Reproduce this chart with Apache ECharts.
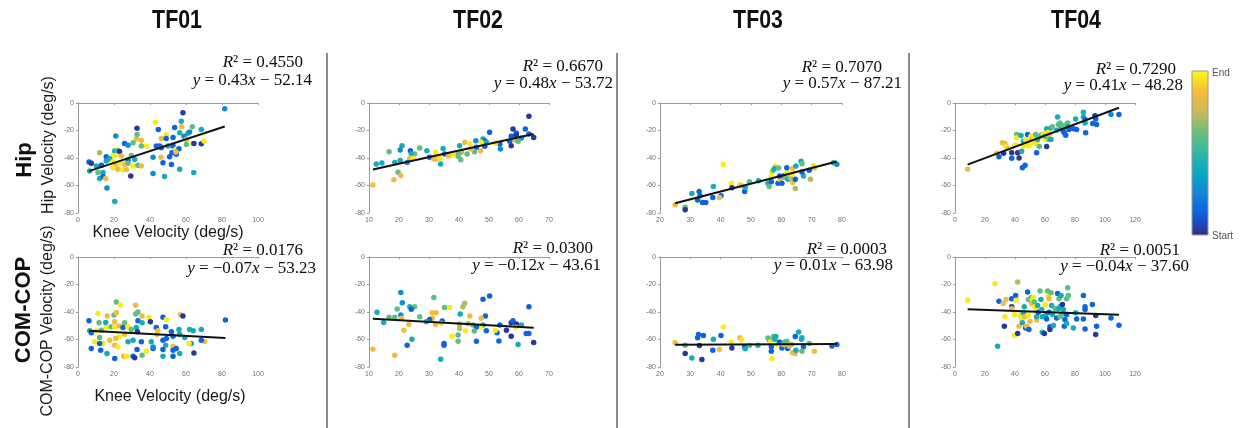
<!DOCTYPE html>
<html>
<head>
<meta charset="utf-8">
<script src="https://cdn.jsdelivr.net/npm/echarts@6/dist/echarts.min.js"></script>
<style>
  html, body { margin: 0; padding: 0; background: #ffffff; }
  #chart { width: 1243px; height: 428px; }
</style>
</head>
<body>
<div id="chart"></div>
<script>
// Trials (columns) and measures (rows)
const trialNames = ['TF01', 'TF02', 'TF03', 'TF04'];
const rowNames = ['Hip', 'COM-COP'];
const rowAxisTitles = ['Hip Velocity (deg/s)', 'COM-COP Velocity (deg/s)'];
const xAxisTitle = 'Knee Velocity (deg/s)';

// Knee velocity axis range per trial: [min, max, step]
const kneeAxis = [[0, 100, 20], [10, 70, 10], [20, 80, 10], [0, 120, 20]];
// Shared vertical axis: [min, max, step]
const velocityAxis = [-80, 0, 20];

// Linear fits per trial
const hipR2 = ['0.4550', '0.6670', '0.7070', '0.7290'];
const hipSlope = [0.43, 0.48, 0.57, 0.41];
const hipIntercept = [-52.14, -53.72, -87.21, -48.28];
const copR2 = ['0.0176', '0.0300', '0.0003', '0.0051'];
const copSlope = [-0.07, -0.12, 0.01, -0.04];
const copIntercept = [-53.23, -43.61, -63.98, -37.60];

// Samples: [knee velocity, velocity, progress 0 = start .. 1 = end]
const tf01Hip = [[81.5,-4.1,.28],[58.3,-7,.03],[57.4,-13.3,.42],[43,-14,.97],[63.5,-17.3,.6],[57.6,-17.3,.85],[53.7,-17.8,.15],[32.8,-18.3,.03],[44.6,-19.3,.15],[68.5,-19.3,.42],[61,-22,.42],[62,-21,.28],[56.5,-21.7,.42],[49,-23,.97],[21,-24,.28],[46.3,-25.8,.85],[52.8,-25,.15],[49,-25.8,.15],[58.9,-24.1,.28],[60.2,-26.5,.85],[32.4,-26,.85],[32.8,-22.9,.6],[35.2,-27,.85],[30.6,-28.9,.6],[25.9,-29.4,.15],[27.8,-30.8,.28],[38,-31.3,.97],[35.2,-31.3,.6],[43.5,-31.3,.15],[45.4,-31.3,.15],[46.3,-32.5,.15],[50,-31.3,.42],[52.8,-31.3,.15],[54.4,-33.7,.97],[56.1,-33.3,.15],[63.9,-29.4,.97],[64.4,-29.4,.03],[68.5,-29.6,.03],[70,-27.7,.97],[60.2,-30.1,.6],[12,-36.1,.72],[20.4,-34.9,.42],[22.2,-34.5,.6],[23.1,-35.2,.03],[20.8,-38.1,.97],[19.4,-38.6,.97],[15.7,-39,.15],[17.6,-40.5,.42],[24.1,-38.6,.85],[29.6,-38.1,.6],[31.5,-41,.42],[27.8,-41.4,.15],[41.7,-39.5,.28],[46.1,-39.5,.85],[50.9,-39,.15],[54.6,-37.3,.15],[52.2,-36.1,.15],[54.4,-35.7,.85],[6.1,-42.9,.15],[7.4,-43.9,.03],[10.2,-45.8,.42],[13,-45.3,.15],[15.7,-42.2,.42],[19.4,-42.7,.97],[21.3,-44.6,.85],[23.1,-43.9,.97],[25.9,-44.6,.85],[27.8,-43.9,.6],[30.6,-45.8,.97],[33.3,-45.3,.6],[35.2,-45.8,.85],[6.5,-49.4,.42],[11.1,-50.6,.6],[13.9,-50.6,.42],[19.4,-47,.97],[22.2,-48.2,.85],[25,-48.7,.97],[26.9,-48.2,.85],[12,-54.9,.42],[13.9,-53.5,.15],[15.4,-54.9,.85],[29.3,-53,.03],[16.1,-61.9,.28],[20.4,-71.6,.42],[41.7,-51.3,.28],[48.1,-53.5,.42],[51.9,-44.8,.15],[56.5,-48.2,.42],[64.3,-50.6,.42],[47.2,-43.4,.15]];
const tf01Cop = [[81.9,-45.9,.15],[21.3,-32.7,.6],[23.5,-34.9,.97],[32,-35.1,.85],[32,-41.5,.6],[33.3,-40,.6],[35.6,-42.9,.85],[39.4,-43.9,.97],[47.2,-43.9,.15],[49.1,-45.4,.97],[57,-42,.85],[58.3,-42.9,.03],[6.1,-46.3,.15],[11.1,-41,.97],[16.3,-42.9,.85],[20,-42.2,.6],[21.3,-40.5,.85],[11.7,-47.8,.6],[15.4,-47.6,.42],[20.4,-47,.85],[25.9,-47.8,.6],[33.3,-46.3,.15],[35.6,-47.8,.42],[40.2,-47,.03],[6.5,-53.7,.42],[7.4,-55.1,.15],[10.2,-53.7,.97],[13,-53.2,.6],[15.7,-51.2,.97],[18.5,-50.7,.6],[20.4,-50.7,.97],[23.1,-50.2,.85],[25,-51.2,.15],[27.8,-50.7,.97],[29.6,-52.7,.6],[32.4,-51.2,.42],[33,-54.4,.03],[43.5,-51.2,.15],[44.4,-53.7,.85],[48.7,-50.7,.15],[51.9,-54.4,.15],[56.1,-52.7,.42],[62,-52.7,.42],[64,-53.7,.42],[68.5,-52.7,.42],[70.4,-61.5,.85],[68.5,-60.5,.15],[63,-62.9,.42],[61.7,-62.9,.97],[59.3,-58.5,.42],[56.5,-56.1,.42],[52.8,-57.6,.15],[49.1,-59.3,.15],[47.2,-60.5,.15],[43.9,-56.1,.85],[40.7,-61.7,.42],[35.2,-61.7,.15],[30.6,-60.5,.42],[25.9,-56.1,.85],[23.1,-58,.97],[20.9,-59.3,.85],[17.6,-60.5,.85],[12,-58.5,.6],[13.9,-62.9,.97],[9.3,-61.7,.97],[12,-62.9,.15],[20.4,-64.1,.85],[22.2,-65.4,.97],[27.8,-61.7,.42],[32.8,-67.3,.15],[38,-68.3,.97],[41.7,-66.6,.15],[41.7,-65.4,.28],[47.2,-67.3,.15],[48.7,-64.1,.42],[52.8,-64.9,.85],[52.8,-67.8,.15],[54.6,-66.6,.15],[56.5,-70.2,.42],[64.4,-69.8,.03],[52.8,-72.2,.15],[47.2,-72.2,.42],[30.6,-72.2,.15],[25.4,-72.2,.85],[27.2,-72.2,.97],[31.5,-73.2,.03],[35.6,-71.5,.6],[20.4,-73.9,.15],[7.4,-66.6,.15],[12.6,-67.8,.15],[16.1,-70.2,.42]];
const tf02Hip = [[63.3,-9.7,.03],[50.2,-21.3,.15],[58,-18.9,.03],[62.1,-18.9,.15],[59.1,-21.8,.15],[57.4,-24.2,.15],[58.3,-24.2,.15],[59.1,-23.3,.03],[60.8,-25.5,.28],[64.9,-25,.03],[63.3,-22.5,.15],[58.6,-26.9,.85],[59.7,-27.9,.6],[56.9,-27.9,.15],[57.4,-31,.03],[53.6,-29.8,.15],[53.8,-33.5,.28],[52.2,-29.1,.97],[48,-26.2,.42],[48.6,-27.4,.15],[49.1,-28.6,.42],[47.4,-28.6,.97],[45.6,-27.4,.28],[41.9,-28.6,.85],[43.6,-29.8,.97],[45.8,-32.2,.15],[48.6,-31.5,.15],[47.2,-34.7,.85],[45.2,-35.4,.6],[40.2,-31,.42],[40.8,-35.9,.72],[42.7,-37.1,.6],[39.7,-37.1,.6],[39.7,-38.8,.6],[40.6,-41.2,.6],[38,-37.8,.97],[35.2,-37.1,.15],[34.7,-33,.42],[32.2,-35.9,.97],[30.2,-39.5,.15],[31.6,-40.7,.85],[32.4,-40.7,.85],[33.6,-40.2,.97],[33.9,-44.4,.42],[29.3,-34.7,.42],[26.9,-32.7,.6],[25.2,-37.1,.6],[23.8,-34.7,.15],[24.1,-37.1,.42],[23.6,-40.2,.85],[24.7,-40.2,.97],[22.7,-43.2,.28],[20.4,-41.9,.42],[21,-31,.42],[20.4,-34.2,.28],[16.7,-35.4,.6],[12.4,-44.4,.42],[14.3,-43.6,.42],[18.6,-43.2,.42],[19.7,-50.4,.6],[20.6,-52.8,.85],[18.3,-55.8,.85],[11.3,-59.6,.85],[36.5,-38.5,.85],[44,-33.5,.85]];
const tf02Cop = [[20.6,-25.9,.28],[21.1,-33.2,.28],[31.6,-29.5,.6],[41.9,-33.7,.72],[41.3,-36.1,.72],[50.2,-28.3,.15],[48,-30.7,.15],[63.3,-36.1,.15],[12.7,-40.2,.42],[19.4,-37.8,.6],[23.6,-36.1,.42],[25.2,-36.1,.6],[24.1,-38,.15],[20.6,-42.2,.28],[20.8,-44.6,.85],[16.7,-43.9,.6],[18.6,-43.9,.6],[14.9,-47.6,.42],[26.9,-43.4,.6],[31.1,-40.5,.85],[32.4,-40.5,.85],[31.1,-44.6,.85],[35.2,-36.8,.6],[36.9,-36.8,.97],[40.4,-41.5,.42],[43.6,-42.9,.85],[48.8,-42.9,.15],[47.4,-44.6,.85],[30.2,-45.4,.15],[29.1,-47.1,.42],[34.4,-46.6,.15],[34.1,-48.3,.97],[32.2,-49,.85],[40.2,-48.8,.72],[43,-48.3,.72],[44.7,-49.5,.6],[48,-49.5,.42],[45.8,-51.2,.97],[47.1,-50.7,.97],[45.8,-50.7,.15],[40.2,-52,.72],[42.2,-53.7,.97],[45.1,-53.9,.6],[49.1,-53.7,.15],[53.6,-49.5,.15],[52.7,-55.1,.15],[52.1,-53.2,.97],[55.8,-53.2,.03],[57.4,-47.8,.03],[58,-46.3,.15],[59.1,-48.8,.03],[58.9,-51.2,.97],[60.8,-49.5,.42],[62.4,-55.6,.15],[63.3,-55.6,.15],[64.9,-62.2,.03],[59.7,-63.7,.42],[57.4,-57.6,.03],[53.3,-61,.15],[45.8,-61.2,.15],[39.7,-61.2,.6],[39.7,-56.8,.6],[37.7,-57.6,.97],[35,-62.9,.15],[35,-64.1,.15],[33.9,-74.4,.42],[24.3,-59.8,.42],[21.6,-53.2,.85],[23.3,-49,.85],[22.7,-64.1,.15],[11.3,-67.1,.85],[18.6,-71.5,.85]];
const tf03Hip = [[25,-74,.85],[28.3,-75.9,.6],[28.3,-77.6,.03],[30.5,-65.8,.42],[32.9,-64.3,.15],[32.4,-70.6,.15],[33.2,-67.5,.15],[34,-72.3,.15],[35.1,-72.3,.15],[37.6,-60.7,.42],[37.4,-68.7,.15],[40.1,-67.5,.15],[39.6,-68.7,.85],[40.9,-44.8,.97],[43.5,-58.3,.97],[43.7,-61.7,.03],[46.3,-59.5,.97],[46.9,-60.2,.85],[47.9,-64.3,.15],[48.1,-61.4,.42],[49.5,-57.3,.6],[52.5,-56.6,.42],[55.6,-58.3,.42],[56,-60.7,.6],[56.7,-53.5,.97],[56.7,-57.3,.15],[56.9,-50.1,.97],[57.3,-48.9,.6],[58,-45.8,.97],[57.8,-47.7,.42],[59.1,-47.2,.6],[58.9,-58.3,.15],[59.6,-55.9,.85],[60.2,-58.3,.15],[59.4,-53,.15],[60.7,-53,.15],[61.3,-54.2,.6],[61.8,-50.6,.97],[61.8,-47,.15],[62.2,-55.4,.42],[62.9,-54.2,.72],[63.5,-51.8,.97],[63.7,-47.7,.85],[63.8,-57.8,.85],[64.6,-62.2,.72],[64.6,-55.4,.15],[64.8,-45.8,.42],[66.5,-42.4,.42],[66.8,-44.1,.6],[67.3,-53,.42],[66.8,-50.1,.15],[69.2,-48.9,.15],[69.6,-55.4,.72],[70.6,-45.5,.97],[70.9,-47.2,.85],[77.2,-43.4,.42],[78.3,-44.6,.28]];
const tf03Cop = [[25,-62.4,.85],[28.3,-64.1,.6],[28.3,-70.2,.03],[30.5,-73.4,.42],[32.7,-56.3,.15],[32.4,-58.7,.15],[33,-64.3,.03],[34.3,-57,.15],[33.8,-74.6,.03],[37.6,-59.9,.42],[37.4,-67.8,.15],[39.6,-67.3,.85],[40.1,-57,.15],[40.9,-50.9,.97],[43.5,-61.9,.97],[43.7,-66.1,.03],[46.3,-58.7,.85],[46.9,-60.4,.97],[47.9,-65.3,.15],[48.1,-66.8,.42],[49.5,-64.3,.6],[52.3,-64.1,.42],[55.6,-58.9,.6],[56,-60.4,.6],[56.4,-61.9,.97],[56.7,-65.3,.15],[56.7,-68.5,.15],[56.9,-73.9,.97],[57.4,-57.9,.6],[58.2,-57.9,.42],[57.8,-59.9,.42],[59.1,-62.4,.6],[58.5,-63.6,.97],[59.4,-61.9,.15],[60.2,-66.1,.15],[60.7,-63.6,.85],[61.1,-61.9,.6],[61.8,-61.2,.6],[62.1,-66.5,.15],[62.6,-64.8,.85],[63.3,-63.6,.72],[63.7,-69.7,.85],[64.6,-70.2,.85],[64.6,-57.9,.15],[64.8,-67.8,.42],[65.7,-54.6,.42],[66.6,-59.9,.42],[66.8,-58.7,.42],[67.3,-65.3,.15],[66.8,-68.5,.6],[69.2,-62.9,.6],[70.9,-68.5,.85],[76.7,-64.8,.15],[78.3,-63.6,.15]];
const tf04Hip = [[8.4,-48.2,.85],[27.8,-36.6,.85],[29.3,-39,.15],[32.4,-36.6,.03],[31.6,-28.9,.85],[33.3,-29.4,.85],[34,-31.8,.97],[35.6,-33.3,.85],[37.3,-33.7,.97],[37.8,-36.1,.03],[37.8,-40.2,.15],[40,-30.8,.85],[40.4,-30.8,.97],[41.1,-22.9,.6],[41.1,-25.3,.97],[41.8,-36.1,.03],[42.7,-40,.03],[44,-23.6,.42],[44.4,-35,.42],[44.9,-47,.15],[46.7,-45.3,.15],[45.6,-27.7,.42],[45.6,-31.3,.97],[47.1,-26.5,.97],[47.8,-30.1,.97],[48.4,-22.9,.15],[49.3,-28.9,.85],[49.3,-31.3,.97],[50.7,-24.1,.97],[51.1,-26.5,.85],[51.6,-28.9,.97],[52.2,-24.1,.97],[52.9,-26.8,.97],[53.8,-22.9,.6],[54.4,-29.4,.97],[55.1,-26.5,.42],[54.4,-36.1,.15],[56.2,-31.6,.6],[56.7,-24.1,.6],[57.8,-22.9,.6],[58.9,-22.2,.97],[60,-26.5,.97],[60,-24.1,.6],[61.1,-18.8,.42],[61.1,-31.6,.03],[62.2,-21.2,.97],[62.7,-22.9,.85],[62.7,-26.5,.6],[64,-18.1,.42],[64,-26.5,.42],[64.9,-17.3,.6],[67.8,-19.8,.42],[68.4,-10.1,.42],[68.9,-15.7,.6],[70,-14.5,.6],[70.4,-17.3,.6],[71.1,-18.1,.42],[71.6,-16.4,.6],[72.2,-20.5,.15],[72.9,-21.7,.15],[73.8,-23.4,.15],[74.4,-15.7,.6],[75.1,-14.5,.6],[75.6,-17.3,.42],[76,-19.3,.15],[78.9,-18.8,.15],[80.4,-11.6,.42],[81.1,-19.3,.15],[85.6,-6.7,.42],[85.6,-10.1,.42],[86.7,-12,.15],[86.7,-14.5,.42],[87.1,-21.7,.15],[91.8,-14.9,.15],[93.3,-9.2,.03],[93.8,-11.6,.15],[94.4,-15.7,.15],[104,-8.4,.28],[109.3,-8.4,.15]];
const tf04Cop = [[8.4,-31.4,.97],[26.7,-19.5,.97],[29.3,-32.1,.15],[32.2,-33.8,.85],[32.9,-50.3,.03],[33.3,-43.5,.97],[34,-30.9,.85],[28.4,-64.9,.42],[37.8,-30.4,.15],[37.8,-36.2,.03],[37.8,-37.7,.85],[39.6,-41.8,.97],[39.6,-56.9,.97],[40.4,-30.9,.15],[40.4,-28,.15],[40.7,-31.4,.97],[41.8,-18.2,.72],[41.8,-55.7,.03],[42.7,-50.3,.85],[43.3,-42.6,.97],[44.4,-45.5,.97],[44.9,-47.9,.42],[45.6,-40.6,.42],[46.2,-36.2,.42],[46.7,-43.5,.85],[47.1,-51.6,.15],[47.8,-50.3,.85],[48.4,-25.5,.15],[48.9,-42.6,.97],[49.3,-52.8,.15],[48.9,-30.9,.6],[50,-46.7,.85],[50.7,-29.7,.6],[51.6,-31.4,.97],[52.2,-29.7,.97],[51.1,-33.8,.85],[52.9,-32.8,.6],[53.3,-36.2,.97],[53.8,-39.4,.97],[54.4,-45.9,.85],[54.4,-43.5,.42],[55.1,-35.2,.42],[55.6,-40.1,.15],[56.7,-24.8,.6],[57.3,-30.9,.42],[57.8,-38.2,.42],[58.2,-43.5,.42],[58.2,-54.7,.42],[59.6,-55.7,.03],[60,-34.5,.97],[60.4,-42.6,.42],[61.1,-45,.15],[61.8,-24.8,.6],[62.2,-28.5,.97],[62.7,-30.4,.85],[62.7,-40.1,.15],[63.3,-50.8,.15],[63.3,-52.8,.03],[64,-26,.6],[64.4,-35.2,.42],[64.9,-41.8,.42],[65.6,-49.8,.42],[66.7,-37.7,.6],[67.8,-44.3,.15],[68.4,-26.5,.15],[68.9,-37.7,.42],[69.3,-30.4,.6],[70,-36.2,.42],[70,-43.5,.6],[70.7,-28,.42],[71.1,-41.8,.6],[71.6,-34.5,.03],[72.2,-38.2,.42],[72.9,-50.3,.15],[73.3,-45.5,.15],[74.4,-41.8,.15],[74.4,-48.4,.42],[74.4,-30.4,.6],[75.1,-22.4,.6],[75.6,-28,.6],[78.9,-51.6,.42],[80.4,-40.6,.42],[81.1,-45,.15],[85.6,-28,.15],[85.6,-45,.15],[86.7,-36.2,.15],[86.7,-38.2,.15],[86.7,-52.3,.15],[91.6,-34.5,.15],[93.8,-42.6,.03],[93.8,-56.4,.03],[94.4,-50.3,.15],[104,-44.3,.15],[109.3,-49.6,.15]];

const hipSamples = [tf01Hip, tf02Hip, tf03Hip, tf04Hip];
const copSamples = [tf01Cop, tf02Cop, tf03Cop, tf04Cop];

// Parula-like colour ramp, start (0) to end (1)
const parula = ['#352a87', '#0d5de0', '#1482d5', '#07a6c6', '#2fb8a2', '#6cbe7c', '#c4bb5b', '#fbbd3b', '#f9fb0e'];

// Layout of the panel plot areas
const plotLeft = [78, 369, 660, 955];
const plotWidth = [180, 180, 182, 180];
const rowTop = [103, 257];
const plotHeight = 110;
const titleX = [177, 478, 758, 1076];
const separatorX = [327, 617, 909];
// Right edge / vertical centre of the two fit-label lines for each panel [row][col]
const fitLabelPos = [
  [[303, 63, 312, 81], [603, 67, 613, 84], [882, 68, 902, 84], [1176, 70, 1183, 86]],
  [[303, 251, 316, 269], [593, 249, 601, 266], [887, 250, 893, 266], [1180, 251, 1189, 267]]
];

const grids = [], xAxes = [], yAxes = [], series = [], scatterIdx = [], graphics = [];
const serif = 'Liberation Serif';
const fitInk = '#0d0d0d';
const richFit = {
  i: { fontFamily: serif, fontSize: 17, fontStyle: 'italic', fill: fitInk },
  n: { fontFamily: serif, fontSize: 17, fill: fitInk }
};
const signed = v => (v < 0 ? '\u2212' : '') + Math.abs(v).toFixed(2);

for (let r = 0; r < 2; r++) {
  for (let c = 0; c < 4; c++) {
    const gi = grids.length;
    grids.push({ left: plotLeft[c], top: rowTop[r], width: plotWidth[c], height: plotHeight, containLabel: false });
    const axisCommon = {
      gridIndex: gi,
      type: 'value',
      axisLine: { show: true, lineStyle: { color: '#9a9a9a', width: 1 } },
      axisTick: { show: true, length: 2, lineStyle: { color: '#9a9a9a' } },
      axisLabel: { fontSize: 7, color: '#6f6f6f', margin: 4, fontFamily: 'Liberation Sans' },
      splitLine: { show: false }
    };
    xAxes.push(Object.assign({}, axisCommon, { min: kneeAxis[c][0], max: kneeAxis[c][1], interval: kneeAxis[c][2] }));
    yAxes.push(Object.assign({}, axisCommon, { min: velocityAxis[0], max: velocityAxis[1], interval: velocityAxis[2] }));

    const pts = r === 0 ? hipSamples[c] : copSamples[c];
    const m = r === 0 ? hipSlope[c] : copSlope[c];
    const b = r === 0 ? hipIntercept[c] : copIntercept[c];
    const r2 = r === 0 ? hipR2[c] : copR2[c];

    scatterIdx.push(series.length);
    series.push({
      type: 'scatter', xAxisIndex: gi, yAxisIndex: gi, data: pts,
      symbolSize: 5.5, itemStyle: { opacity: 1 }, silent: true, z: 2
    });
    const xs = pts.map(p => p[0]);
    const x0 = Math.min(...xs), x1 = Math.max(...xs);
    series.push({
      type: 'line', xAxisIndex: gi, yAxisIndex: gi,
      data: [[x0, m * x0 + b], [x1, m * x1 + b]],
      symbol: 'none', lineStyle: { color: '#111111', width: 2 }, silent: true, z: 3
    });

    const lp = fitLabelPos[r][c];
    graphics.push({
      type: 'text', x: lp[0], y: lp[1],
      style: { text: '{i|R}{n|\u00b2 = ' + r2 + '}', rich: richFit, align: 'right', verticalAlign: 'middle' }
    });
    graphics.push({
      type: 'text', x: lp[2], y: lp[3],
      style: {
        text: '{i|y}{n| = ' + signed(m) + '}{i|x}{n| ' + (b < 0 ? '\u2212' : '+') + ' ' + Math.abs(b).toFixed(2) + '}',
        rich: richFit, align: 'right', verticalAlign: 'middle'
      }
    });
  }
}

// Column titles
trialNames.forEach((t, i) => graphics.push({
  type: 'text', x: titleX[i], y: 21, scaleX: 0.82,
  style: { text: t, fontFamily: 'Liberation Sans', fontWeight: 'bold', fontSize: 26, fill: '#111', align: 'center', verticalAlign: 'middle' }
}));

// Column separators
separatorX.forEach(x => graphics.push({
  type: 'line', shape: { x1: x, y1: 53, x2: x, y2: 428 },
  style: { stroke: '#8a8a8a', lineWidth: 2 }
}));

// Row labels and axis titles
const rotUp = Math.PI / 2;
graphics.push({ type: 'text', x: 25, y: 160, rotation: rotUp,
  style: { text: rowNames[0], fontFamily: 'Liberation Sans', fontWeight: 'bold', fontSize: 22, fill: '#111', align: 'center', verticalAlign: 'middle' } });
graphics.push({ type: 'text', x: 24, y: 310, rotation: rotUp,
  style: { text: rowNames[1], fontFamily: 'Liberation Sans', fontWeight: 'bold', fontSize: 22, fill: '#111', align: 'center', verticalAlign: 'middle' } });
graphics.push({ type: 'text', x: 49, y: 145, rotation: rotUp,
  style: { text: rowAxisTitles[0], fontFamily: 'Liberation Sans', fontSize: 16, fill: '#1a1a1a', align: 'center', verticalAlign: 'middle' } });
graphics.push({ type: 'text', x: 48, y: 321, rotation: rotUp,
  style: { text: rowAxisTitles[1], fontFamily: 'Liberation Sans', fontSize: 16, fill: '#1a1a1a', align: 'center', verticalAlign: 'middle' } });
graphics.push({ type: 'text', x: 168, y: 233,
  style: { text: xAxisTitle, fontFamily: 'Liberation Sans', fontSize: 16, fill: '#1a1a1a', align: 'center', verticalAlign: 'middle' } });
graphics.push({ type: 'text', x: 170, y: 397,
  style: { text: xAxisTitle, fontFamily: 'Liberation Sans', fontSize: 16, fill: '#1a1a1a', align: 'center', verticalAlign: 'middle' } });

// Colour bar (start at bottom, end at top)
graphics.push({
  type: 'rect', shape: { x: 1192, y: 71, width: 16, height: 164 },
  style: {
    fill: new echarts.graphic.LinearGradient(0, 1, 0, 0,
      parula.map((col, k) => ({ offset: k / (parula.length - 1), color: col }))),
    stroke: '#9a9a9a', lineWidth: 1
  }
});
graphics.push({ type: 'text', x: 1212, y: 73,
  style: { text: 'End', fontFamily: 'Liberation Sans', fontSize: 10, fill: '#555', align: 'left', verticalAlign: 'middle' } });
graphics.push({ type: 'text', x: 1212, y: 236,
  style: { text: 'Start', fontFamily: 'Liberation Sans', fontSize: 10, fill: '#555', align: 'left', verticalAlign: 'middle' } });

const chart = echarts.init(document.getElementById('chart'), null, { renderer: 'canvas' });
chart.setOption({
  backgroundColor: '#ffffff',
  animation: false,
  grid: grids,
  xAxis: xAxes,
  yAxis: yAxes,
  visualMap: {
    type: 'continuous', show: false, min: 0, max: 1, dimension: 2,
    seriesIndex: scatterIdx, inRange: { color: parula }
  },
  series: series,
  graphic: { elements: graphics }
});
</script>
</body>
</html>
